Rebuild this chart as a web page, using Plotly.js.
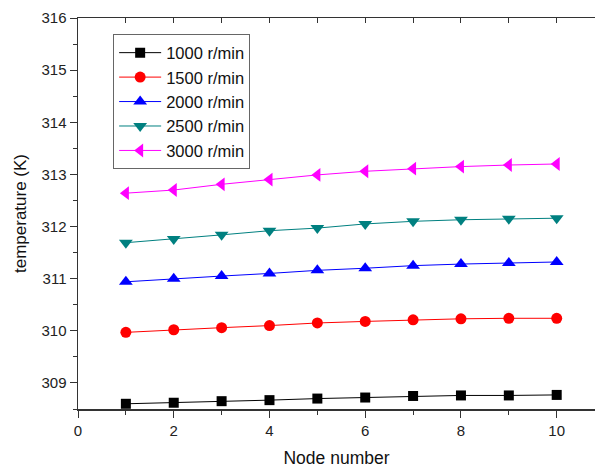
<!DOCTYPE html>
<html>
<head>
<meta charset="utf-8">
<script src="https://cdn.plot.ly/plotly-3.0.1.min.js"></script>
<style>html,body{margin:0;padding:0;background:#fff;}#chart{width:595px;height:468px;}</style>
</head>
<body>
<div id="chart"></div>
<script>
const nodes = [1, 2, 3, 4, 5, 6, 7, 8, 9, 10];
const seriesNames = ["1000 r/min", "1500 r/min", "2000 r/min", "2500 r/min", "3000 r/min"];
const t1000 = [308.60, 308.62, 308.65, 308.67, 308.70, 308.72, 308.75, 308.76, 308.76, 308.77];
const t1500 = [309.97, 310.02, 310.06, 310.10, 310.15, 310.18, 310.21, 310.23, 310.24, 310.24];
const t2000 = [310.94, 311.00, 311.05, 311.10, 311.16, 311.20, 311.25, 311.28, 311.30, 311.32];
const t2500 = [311.69, 311.76, 311.84, 311.92, 311.97, 312.05, 312.10, 312.13, 312.15, 312.16];
const t3000 = [312.64, 312.70, 312.81, 312.90, 312.99, 313.06, 313.11, 313.15, 313.18, 313.20];
const xTicks = [0, 2, 4, 6, 8, 10];
const yTicks = [309, 310, 311, 312, 313, 314, 315, 316];

const seriesValues = [t1000, t1500, t2000, t2500, t3000];
const colors = ["#000000", "#ff0000", "#0000ff", "#008080", "#ff00ff"];
const symbols = ["square", "circle", "triangle-up", "triangle-down", "triangle-left"];
const sizes = [10, 11, 12, 12, 12];

const traces = seriesValues.map((vals, i) => ({
  x: nodes, y: vals, name: seriesNames[i], type: "scatter", mode: "lines+markers",
  line: {color: colors[i], width: 1},
  marker: {color: colors[i], symbol: symbols[i], size: sizes[i], line: {width: 0}}
}));
// helper trace so the top (inside-tick) axis is drawn
traces.push({x: [null], y: [null], xaxis: "x2", yaxis: "y", showlegend: false,
  type: "scatter", mode: "markers", hoverinfo: "skip"});

const layout = {
  width: 595, height: 468,
  margin: {l: 78, r: 0, t: 18, b: 59},
  paper_bgcolor: "#ffffff", plot_bgcolor: "#ffffff",
  font: {family: "Liberation Sans, Arial, sans-serif", size: 15, color: "#222"},
  showlegend: true,
  legend: {
    x: 0.068, y: 0.958, xanchor: "left", yanchor: "top",
    bgcolor: "rgba(255,255,255,0)", bordercolor: "#666", borderwidth: 1,
    font: {family: "Liberation Sans, Arial, sans-serif", size: 16.5, color: "#111"},
    tracegroupgap: 0, itemwidth: 42
  },
  xaxis: {
    range: [0, 10.8], tickvals: xTicks, ticktext: xTicks.map(String),
    showline: true, linecolor: "#333", linewidth: 1.5, mirror: false,
    ticks: "outside", ticklen: 7, tickcolor: "#333", tickwidth: 1,
    minor: {dtick: 1, tick0: 0, ticks: "outside", ticklen: 4, tickcolor: "#333"},
    showgrid: false, zeroline: false,
    title: {text: "Node number", font: {size: 17.5, color: "#111"}, standoff: 16}
  },
  xaxis2: {
    overlaying: "x", matches: "x", side: "top", anchor: "y",
    tickvals: xTicks, showticklabels: false,
    showline: true, linecolor: "#333", linewidth: 1.5,
    ticks: "inside", ticklen: 5, tickcolor: "#333", tickwidth: 1,
    minor: {dtick: 1, tick0: 0, ticks: "inside", ticklen: 5, tickcolor: "#333"},
    showgrid: false, zeroline: false
  },
  yaxis: {
    range: [308.5, 316], tickvals: yTicks, ticktext: yTicks.map(String),
    showline: true, linecolor: "#333", linewidth: 1.5, mirror: false,
    ticks: "outside", ticklen: 7, tickcolor: "#333", tickwidth: 1,
    minor: {dtick: 0.5, tick0: 308.5, ticks: "outside", ticklen: 4, tickcolor: "#333"},
    showgrid: false, zeroline: false,
    title: {text: "temperature (K)", font: {size: 17, color: "#111"}, standoff: 10}
  }
};

Plotly.newPlot("chart", traces, layout, {staticPlot: true, displayModeBar: false});
</script>
</body>
</html>
